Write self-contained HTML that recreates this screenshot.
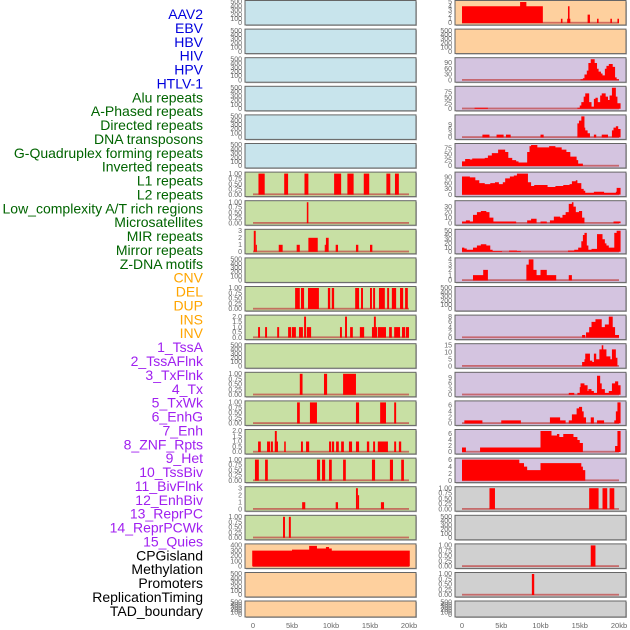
<!DOCTYPE html>
<html><head><meta charset="utf-8"><style>
body{margin:0;background:#fff;width:630px;height:630px;overflow:hidden;font-family:"Liberation Sans",sans-serif}
svg{position:absolute;left:0;top:0}
</style></head><body>
<svg id="c" width="630" height="630"></svg>
<script>
// ---- data (kb positions, values) ----
const labels=["AAV2","EBV","HBV","HIV","HPV","HTLV-1","Alu repeats","A-Phased repeats","Directed repeats","DNA transposons","G-Quadruplex forming repeats","Inverted repeats","L1 repeats","L2 repeats","Low_complexity A/T rich regions","Microsatellites","MIR repeats","Mirror repeats","Z-DNA motifs","CNV","DEL","DUP","INS","INV","1_TssA","2_TssAFlnk","3_TxFlnk","4_Tx","5_TxWk","6_EnhG","7_Enh","8_ZNF_Rpts","9_Het","10_TssBiv","11_BivFlnk","12_EnhBiv","13_ReprPC","14_ReprPCWk","15_Quies","CPGisland","Methylation","Promoters","ReplicationTiming","TAD_boundary"];
const labelColors=["#0000dd","#0000dd","#0000dd","#0000dd","#0000dd","#0000dd","#006400","#006400","#006400","#006400","#006400","#006400","#006400","#006400","#006400","#006400","#006400","#006400","#006400","#ffa500","#ffa500","#ffa500","#ffa500","#ffa500","#a020f0","#a020f0","#a020f0","#a020f0","#a020f0","#a020f0","#a020f0","#a020f0","#a020f0","#a020f0","#a020f0","#a020f0","#a020f0","#a020f0","#a020f0","#000","#000","#000","#000","#000"];
const xTicks=[0,5,10,15,20];
const xTickLabels=["0","5kb","10kb","15kb","20kb"];
const T500=["0","100","200","300","400","500"], T1=["0.00","0.25","0.50","0.75","1.00"], T3=["0","1","2","3"], T2=["0.0","0.5","1.0","1.5","2.0"];
// bars: [start, end, value]
const L6=[[0.7,1.5,1],[4.0,4.5,1],[6.6,7.1,1],[10.4,11.3,1],[12.1,12.9,1],[14.2,14.9,1],[17.1,17.6,1],[18.2,18.7,1]];
const L7=[[6.9,7.1,1]];
const L8=[[0.1,0.35,3],[0.35,0.5,1],[3.3,3.8,1],[5.6,6.0,1],[7.1,8.3,2],[9.2,9.35,1],[9.35,9.7,2],[10.6,10.9,1],[13.2,13.5,1],[15,15.3,1]];
const L10=[[5.4,6.0,1],[6.15,6.55,1],[7.05,8.45,1],[9.6,9.9,1],[10.1,10.4,1],[13.1,13.6,1],[13.85,14.1,1],[15,15.25,1],[15.4,15.65,1],[16.15,16.9,1],[17.2,17.45,1],[17.8,18.35,1],[18.85,19.25,1],[19.5,19.85,1]];
const L11=[[0.65,0.9,1],[1.55,1.8,1],[3.1,3.35,1],[4.5,4.9,1],[5,5.5,1],[5.9,6.4,1],[6.9,7.45,1],[11.15,11.4,1],[12.45,12.8,1],[13.7,14.25,1],[15.25,15.9,1],[16,17.05,1],[17.45,17.8,1],[18.1,18.85,1],[19.1,19.5,1],[19.6,20,1],[6.55,6.8,2],[11.8,12.05,2],[15.5,15.75,2]];
const L13=[[6,6.35,1],[9.1,9.5,1],[11.55,13.2,1]];
const L14=[[5.65,6.0,1],[7.3,8.2,1],[13.2,13.6,1],[16.3,17.05,1],[18.1,18.35,1]];
const L15=[[0.65,1.0,1],[1.8,2.2,1],[2.3,2.55,1],[2.8,3.2,1],[4,4.2,1],[6.15,6.4,1],[6.8,7.2,1],[9.75,10,1],[10.1,10.4,1],[10.65,11,1],[11.3,11.65,1],[12.3,12.7,1],[13.2,13.6,1],[14.6,14.9,1],[15.4,15.65,1],[16,17.3,1],[18.1,18.35,1],[18.7,19,1],[2.8,3.05,2]];
const L16=[[0.25,0.75,1],[1.55,1.9,1],[8.2,8.6,1],[8.85,9.25,1],[9.75,10.1,1],[11.55,11.9,1],[15.25,15.65,1],[17.55,17.95,1],[19,19.35,1]];
const L17=[[6.3,6.7,1],[10.6,10.9,1],[16.4,16.8,1],[13.2,13.45,3],[13.45,13.6,2]];
const L18=[[3.85,4.1,1],[4.6,4.85,1]];
const R17=[[3.5,4.2,1],[16.2,17.4,1],[17.9,18.5,1],[18.8,19.4,1]];
const R19=[[16.4,17,1]];
const R20=[[8.9,9.2,1]];
// steps: [kb, value] value holds until next kb
const L19=[[-0.1,300],[5,320],[7.2,390],[8.2,340],[9.35,370],[9.75,340],[10.1,300],[20.1,0]];
const R0=[[0,4],[7.4,5],[8.2,4],[10.3,0],[12.6,1],[12.8,0],[13.4,1],[13.5,4],[13.7,1],[13.8,0],[16,2],[16.3,0],[17.2,1],[17.4,0],[18.9,1],[19.1,0],[19.8,1],[20,0]];
const R2=[[15.1,5],[15.4,10],[15.6,30],[15.9,50],[16.1,90],[16.4,110],[16.9,90],[17.2,60],[17.4,45],[17.7,35],[17.9,25],[18.2,60],[18.4,75],[18.7,85],[19.2,70],[19.5,15],[19.7,5],[20,0]];
const R3=[[1.6,5],[3.3,0],[14.7,5],[15,15],[15.2,30],[15.5,55],[15.7,70],[16.2,30],[16.5,10],[16.8,45],[17,50],[17.3,30],[17.6,60],[17.8,70],[18.3,55],[18.6,40],[18.8,60],[19.1,95],[19.6,55],[19.8,25],[20.2,0]];
const R4=[[2.6,2],[3.5,0],[4.4,2],[5.3,0],[5.6,2],[6.2,0],[10,2],[10.4,0],[14.7,10],[14.9,12],[15.2,15],[15.6,7],[15.7,5],[16,3],[16.3,0],[16.8,2],[17.1,0],[17.8,2],[18.6,0],[19.1,5],[19.3,7],[19.6,8],[19.9,6],[20.2,0]];
const R5=[[0,20],[0.4,30],[1,28],[1.3,32],[2.9,35],[3.3,45],[3.8,55],[4.6,70],[5.5,60],[5.9,35],[6.4,25],[6.9,20],[7.2,15],[8.2,15],[8.3,60],[8.6,85],[8.8,90],[9.6,80],[11.1,85],[11.9,80],[12.7,70],[13.3,60],[13.8,40],[14.6,25],[14.8,10],[15.4,0]];
const R6=[[0,95],[1,90],[1.7,75],[2.2,60],[2.9,55],[3.6,60],[4.2,65],[4.7,55],[5.2,65],[5.5,85],[6.1,95],[6.6,100],[7,110],[8.4,65],[8.8,45],[9.2,50],[10.9,40],[11.9,45],[12.9,50],[13.7,55],[14,70],[14.5,75],[14.7,60],[15.2,30],[15.5,20],[15.7,10],[16.8,15],[17.5,15],[18.1,10],[19.6,15],[19.7,35],[20.2,0]];
const R7=[[0,3],[0.5,5],[1,3],[1.4,15],[1.9,20],[2.4,22],[3.1,20],[3.5,10],[4,3],[5.5,3],[6.9,0],[8.3,5],[8.8,8],[9.5,0],[10,3],[10.8,0],[11.2,5],[11.7,12],[12.5,10],[12.8,15],[13.2,20],[13.6,35],[14,38],[14.2,30],[14.5,20],[14.9,22],[15.3,10],[15.6,0],[19.3,3],[20.2,0]];
const R8=[[0,10],[0.3,8],[0.6,5],[1.4,10],[1.9,15],[2.4,18],[3.1,15],[3.6,5],[3.9,2],[4.6,2],[5.1,0],[6,3],[7,2],[7.5,0],[13.5,3],[14.3,5],[14.8,10],[15.2,25],[15.4,40],[15.6,45],[15.9,15],[16.1,5],[16.5,7],[17.2,42],[17.9,30],[18.2,20],[18.4,15],[18.7,10],[19.4,45],[19.7,50],[20.2,0]];
const R9=[[1.4,1],[2.7,2],[3.3,0],[8.2,3],[8.5,4],[9.1,2],[9.5,1],[10,2],[10.8,1],[12,0],[13.6,1],[14,0]];
const R11=[[15.3,1],[15.7,0],[15.8,2],[16.2,4],[16.5,6],[17,7],[17.8,4],[18.2,5],[18.7,8],[19.2,4],[19.5,1],[20,0]];
const R12=[[15.3,3],[15.6,5],[15.7,9],[16.3,4],[16.6,3],[16.8,9],[17.1,5],[17.5,12],[17.8,15],[18,12],[18.4,7],[18.9,5],[19.1,12],[19.6,6],[19.8,0]];
const R13=[[13.6,1],[14.3,0],[14.7,1],[15,4],[15.1,6],[15.6,5],[16,2],[16.1,3],[16.5,2],[16.8,1],[17.2,10],[17.6,6],[17.8,3],[18.2,1],[18.7,2],[19.1,6],[19.5,7],[19.9,5],[20.2,0]];
const R14=[[0.3,1],[2.6,0],[5,1],[7.5,0],[11.2,2],[12.5,1],[13.2,0],[13.6,1],[14,3],[14.6,5],[14.9,5.5],[15.3,4],[15.5,2],[15.8,0],[16.4,2],[16.8,0],[17.2,1],[18.1,0],[19.4,1],[19.6,4],[19.8,7],[20.2,0]];
const R15=[[0,1.5],[0.5,0],[2.3,1.5],[10,7],[11.4,5.5],[12.1,6],[12.4,5],[12.9,6],[14.2,5],[14.7,4],[15,3],[15.4,0],[19.5,2],[19.8,7],[20.2,0]];
const R16=[[0,6],[7.3,5],[7.9,4],[8.3,3],[10,5],[15.2,4],[15.4,3],[15.7,0]];

const BLUE="#c8e4ec",GREEN="#c8e0a4",PEACH="#fed09e",PURP="#d4c4e0",GREY="#d0d0d0";
const p=(col,row,bg,ymax,ticks,tickVals,bars,steps)=>({col,row,bg,ymax,ticks,tickVals,bars,steps});
const lin=(n,m)=>Array.from({length:n},(_,i)=>i*m);
const panels=[];
for(let r=0;r<6;r++)panels.push(p(0,r,BLUE,500,T500,lin(6,100)));
panels.push(p(0,6,GREEN,1,T1,lin(5,.25),L6));
panels.push(p(0,7,GREEN,1,T1,lin(5,.25),L7));
panels.push(p(0,8,GREEN,3,T3,lin(4,1),L8));
panels.push(p(0,9,GREEN,500,T500,lin(6,100)));
panels.push(p(0,10,GREEN,1,T1,lin(5,.25),L10));
panels.push(p(0,11,GREEN,2,T2,lin(5,.5),L11));
panels.push(p(0,12,GREEN,500,T500,lin(6,100)));
panels.push(p(0,13,GREEN,1,T1,lin(5,.25),L13));
panels.push(p(0,14,GREEN,1,T1,lin(5,.25),L14));
panels.push(p(0,15,GREEN,2,T2,lin(5,.5),L15));
panels.push(p(0,16,GREEN,1,T1,lin(5,.25),L16));
panels.push(p(0,17,GREEN,3,T3,lin(4,1),L17));
panels.push(p(0,18,GREEN,1,T1,lin(5,.25),L18));
panels.push(p(0,19,PEACH,400,["0","100","200","300","400"],lin(5,100),null,L19));
panels.push(p(0,20,PEACH,500,T500,lin(6,100)));
panels.push(p(0,21,PEACH,500,T500,lin(6,100)));
panels.push(p(1,0,PEACH,5,["0","1","2","3","4","5"],lin(6,1),null,R0));
panels.push(p(1,1,PEACH,500,T500,lin(6,100)));
panels.push(p(1,2,PURP,110,["0","30","60","90"],lin(4,30),null,R2));
panels.push(p(1,3,PURP,95,["0","25","50","75"],lin(4,25),null,R3));
panels.push(p(1,4,PURP,15,["0","3","6","9"],lin(4,3),null,R4));
panels.push(p(1,5,PURP,90,["0","25","50","75"],lin(4,25),null,R5));
panels.push(p(1,6,PURP,110,["0","30","60","90"],lin(4,30),null,R6));
panels.push(p(1,7,PURP,38,["0","10","20","30"],lin(4,10),null,R7));
panels.push(p(1,8,PURP,50,["0","10","20","30","40","50"],lin(6,10),null,R8));
panels.push(p(1,9,PURP,4,["0","1","2","3","4"],lin(5,1),null,R9));
panels.push(p(1,10,PURP,500,T500,lin(6,100)));
panels.push(p(1,11,PURP,8,["0","2","4","6","8"],lin(5,2),null,R11));
panels.push(p(1,12,PURP,15,["0","5","10","15"],lin(4,5),null,R12));
panels.push(p(1,13,PURP,11,["0","3","6","9"],lin(4,3),null,R13));
panels.push(p(1,14,PURP,7,["0","2","4","6"],lin(4,2),null,R14));
panels.push(p(1,15,PURP,7,["0","2","4","6"],lin(4,2),null,R15));
panels.push(p(1,16,PURP,6,["0","2","4","6"],lin(4,2),null,R16));
panels.push(p(1,17,GREY,1,T1,lin(5,.25),R17));
panels.push(p(1,18,GREY,500,T500,lin(6,100)));
panels.push(p(1,19,GREY,1,T1,lin(5,.25),R19));
panels.push(p(1,20,GREY,1,T1,lin(5,.25),R20));
panels.push(p(1,21,GREY,500,T500,lin(6,100)));

const svg=document.getElementById('c');
const NS="http://www.w3.org/2000/svg";
function mk(tag,attrs,parent){const e=document.createElementNS(NS,tag);for(const k in attrs)e.setAttribute(k,attrs[k]);(parent||svg).appendChild(e);return e;}
const colX=[[245,416,253,7.8],[455,626,462,7.85]];
function rowTop(r){return r===21?601:0.5+28.6*r;}
function rowH(r){return r===21?16:24.5;}

labels.forEach((t,i)=>{
  const e=mk('text',{x:203,y:14+i*13.88+5,'text-anchor':'end','font-size':'14',fill:labelColors[i]});
  e.textContent=t;
  
  
});

panels.forEach(pn=>{
  const [x0,x1,z,s]=colX[pn.col];
  const top=rowTop(pn.row),h=rowH(pn.row);
  const g=mk('g',{});
  
  
  mk('rect',{x:x0+1,y:top+1,width:x1-x0,height:h,fill:'#bbb'},g);
  mk('rect',{x:x0,y:top,width:x1-x0,height:h,fill:pn.bg,stroke:'#666','stroke-width':1},g);
  const yb=top+h-2,yt=top+1.5;
  const ys=v=>yb-(v/pn.ymax)*(yb-yt);
  const xs=k=>z+k*s;
  pn.ticks.forEach((t,i)=>{
    const e=mk('text',{x:x0-3,y:ys(pn.tickVals[i])+2.2,'text-anchor':'end','font-size':'7',fill:'#666'},g);
    e.textContent=t;
    
    
  });
  const hasData=(pn.bars&&pn.bars.length)||(pn.steps&&pn.steps.length);
  if(hasData){
    const bl=mk('rect',{x:xs(0),y:yb-1.2,width:xs(20)-xs(0),height:1.8,fill:'#c04040',opacity:0.7},g);
    
    
  }
  if(pn.bars)pn.bars.forEach(b=>{
    const r=mk('rect',{x:xs(b[0]),y:ys(b[2]),width:Math.max(1,xs(b[1])-xs(b[0])),height:yb-ys(b[2]),fill:'#ff0000'},g);
    
    
  });
  if(pn.steps){
    let d='M'+xs(pn.steps[0][0])+','+yb;
    for(let i=0;i<pn.steps.length;i++){
      const k=pn.steps[i][0],v=pn.steps[i][1];
      d+=' L'+xs(k)+','+(i?ys(pn.steps[i-1][1]):yb)+' L'+xs(k)+','+ys(v);
    }
    d+=' L'+xs(pn.steps[pn.steps.length-1][0])+','+yb+' Z';
    const pa=mk('path',{d,fill:'#ff0000'},g);
    
    
  }
});

[0,1].forEach(c=>{
  const [x0,x1,z,s]=colX[c];
  xTicks.forEach((k,i)=>{
    const e=mk('text',{x:z+k*s,y:628,'text-anchor':'middle','font-size':'7.5',fill:'#666'});
    e.textContent=xTickLabels[i];
    
    
  });
});
</script>
</body></html>
